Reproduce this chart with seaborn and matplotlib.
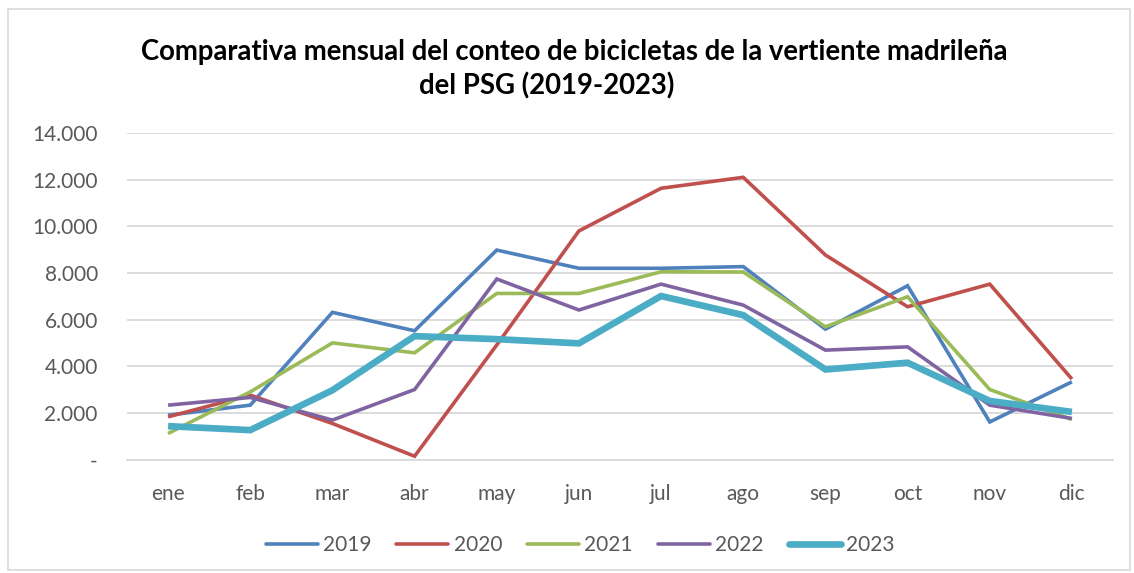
import numpy as np
import pandas as pd
import matplotlib
matplotlib.use("Agg")
import matplotlib.pyplot as plt
import seaborn as sns
from matplotlib.ticker import FuncFormatter
from matplotlib.patches import Rectangle

# Monthly bicycle counts per year
meses = ["ene", "feb", "mar", "abr", "may", "jun", "jul", "ago", "sep", "oct", "nov", "dic"]
anios = ["2019", "2020", "2021", "2022", "2023"]
conteo_2019 = [1900, 2330, 6310, 5520, 8980, 8200, 8200, 8270, 5590, 7450, 1610, 3330]
conteo_2020 = [1830, 2760, 1545, 140, 4910, 9800, 11630, 12100, 8770, 6550, 7520, 3450]
conteo_2021 = [1115, 2900, 5000, 4575, 7120, 7120, 8050, 8040, 5690, 6980, 3000, 1715]
conteo_2022 = [2330, 2660, 1690, 3000, 7740, 6410, 7520, 6620, 4690, 4830, 2330, 1760]
conteo_2023 = [1430, 1260, 2970, 5290, 5160, 4980, 7010, 6190, 3860, 4150, 2510, 2040]
y_ticks = [0, 2000, 4000, 6000, 8000, 10000, 12000, 14000]

series = [conteo_2019, conteo_2020, conteo_2021, conteo_2022, conteo_2023]
colores = ["#4F81BD", "#C0504D", "#9BBB59", "#8064A2", "#4BACC6"]
grosores = [2.6, 2.6, 2.6, 2.6, 4.8]

df = pd.DataFrame({
    "mes": meses * len(anios),
    "valor": [v for s in series for v in s],
    "anio": [a for a in anios for _ in meses],
})

sns.set_theme(style="white")
plt.rcParams["font.family"] = ["Lato", "DejaVu Sans"]

W, H = 1134, 573
fig = plt.figure(figsize=(W / 100, H / 100), dpi=100)
ax = fig.add_axes([127 / W, 1 - 459.5 / H, (1113 - 127) / W, (459.5 - 133) / H])

sns.lineplot(data=df, x="mes", y="valor", hue="anio", size="anio",
             palette=dict(zip(anios, colores)), sizes=dict(zip(anios, grosores)),
             sort=False, legend=False, ax=ax)
for ln in ax.lines:
    ln.set_solid_joinstyle("miter")
    ln.set_solid_capstyle("butt")

ax.set_xlim(-0.5, len(meses) - 0.5)
ax.set_ylim(0, 14000)
ax.set_yticks(y_ticks)
ax.yaxis.set_major_formatter(FuncFormatter(
    lambda v, p: "-" if v == 0 else f"{int(v):,}".replace(",", ".")))
ax.grid(axis="y", color="#D9D9D9", linewidth=1.3)
ax.set_axisbelow(True)
for s in ["top", "right", "left"]:
    ax.spines[s].set_visible(False)
ax.spines["bottom"].set_color("#D9D9D9")
ax.spines["bottom"].set_linewidth(1.3)
ax.tick_params(axis="both", length=0, labelsize=15, colors="#595959")
ax.tick_params(axis="y", pad=21)
ax.tick_params(axis="x", pad=17.5)
ax.set_xlabel("")
ax.set_ylabel("")

# Two-line title
fig.text(574 / W, 1 - 60 / H,
         "Comparativa mensual del conteo de bicicletas de la vertiente madrileña",
         ha="center", va="baseline", fontsize=19.8, fontweight="bold", color="black")
fig.text(547 / W, 1 - 94 / H, "del PSG (2019-2023)",
         ha="center", va="baseline", fontsize=19.8, fontweight="bold", color="black")

handles = [plt.Line2D([], [], color=c, lw=w, solid_capstyle="round") for c, w in zip(colores, grosores)]
leg = fig.legend(handles, anios, loc="center", bbox_to_anchor=(580 / W, 1 - 545 / H),
                 ncol=5, frameon=False, fontsize=15, handlelength=2.5,
                 handletextpad=0.25, columnspacing=1.2)
for t in leg.get_texts():
    t.set_color("#595959")

# Chart frame
fig.patches.append(Rectangle((8 / W, 3 / H), 1122 / W, 561 / H, transform=fig.transFigure,
                             fill=False, edgecolor="#D9D9D9", linewidth=1.2))

fig.savefig("out.png", dpi=100)
